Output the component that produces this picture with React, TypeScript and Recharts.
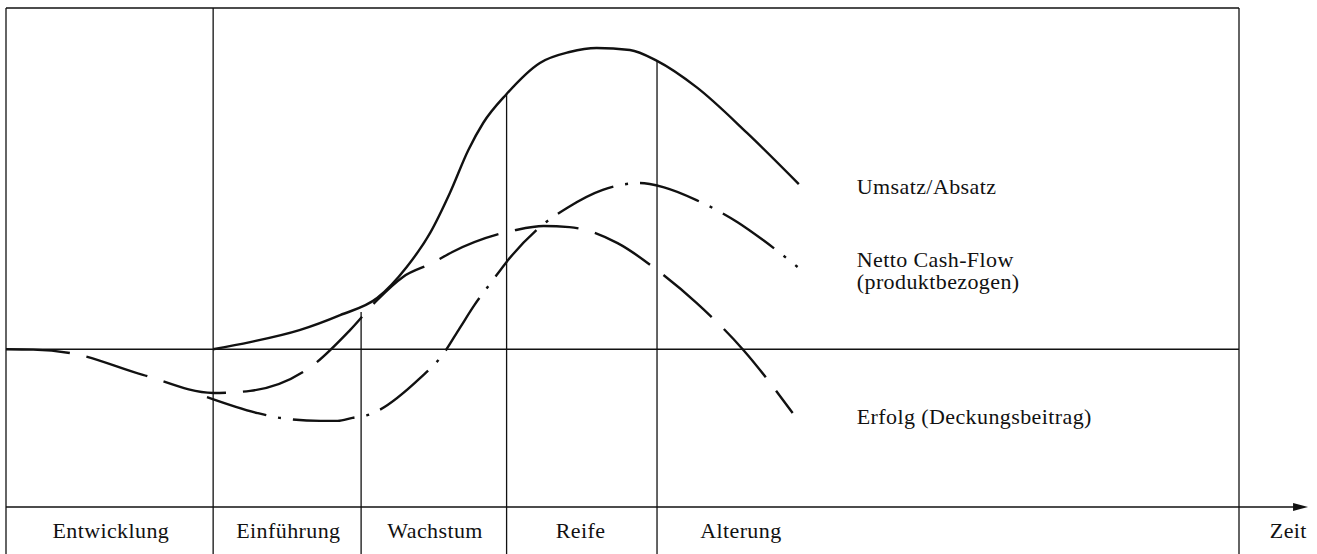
import React from "react";
import { ComposedChart, Line, XAxis, YAxis, ReferenceLine, ReferenceDot } from "recharts";

// time runs 0..100 across the frame, value 0 is the break-even line
const umsatzT = [16.8, 19.8, 23.8, 27.1, 30.1, 32.5, 34.4, 36.0, 37.5, 38.7, 40.6, 43.3, 45.7, 47.9, 50.6, 52.8, 56.0, 60.1, 64.3];
const umsatzV = [0, 2.1, 5.6, 10.0, 15.0, 24.1, 34.1, 45.8, 58.4, 66.3, 74.8, 83.9, 87.1, 88.3, 87.7, 84.5, 76.8, 63.4, 48.4];

const cashT = [16.3, 20.4, 22.2, 25.5, 26.9, 28.1, 29.3, 33.6, 35.4, 36.8, 38.0, 39.5, 40.6, 43.3, 45.5, 48.4, 51.4, 53.3, 56.0, 59.3, 61.4, 64.2];
const cashV = [-14.0, -18.7, -20.1, -21.0, -21.0, -20.1, -19.3, -8.4, -1.7, 6.2, 13.0, 20.3, 25.6, 35.8, 41.4, 46.7, 48.7, 47.5, 43.7, 37.3, 32.0, 24.1];

const erfolgT = [0, 2.2, 5.2, 11.1, 16.8, 19.8, 24.7, 27.9, 30.1, 32.2, 34.6, 36.2, 41.3, 43.6, 45.7, 49.6, 52.8, 56.0, 59.8, 63.8];
const erfolgV = [0, -0.1, -1.1, -7.5, -12.8, -12.2, -5.2, 5.6, 14.4, 21.2, 25.3, 28.5, 34.9, 36.1, 35.8, 31.1, 23.2, 13.6, -0.2, -18.7];

// phase boundaries and how high each divider reaches
const phaseBounds = [16.8, 28.8, 40.6, 52.8];
const phaseTops = [100, 10.9, 74.8, 84.5];

const phaseNames = ["Entwicklung", "Einführung", "Wachstum", "Reife", "Alterung"];
const phaseNameX = [8.5, 22.9, 34.8, 46.6, 59.6];
const phaseNameY = -55.3;

const curveNames = ["Umsatz/Absatz", "Netto Cash-Flow", "(produktbezogen)", "Erfolg (Deckungsbeitrag)"];
const curveNameX = 69.0;
const curveNameY = [45.5, 24.1, 17.6, -21.9];

const timeLabel = "Zeit";
const timeLabelX = 102.5;
const axisY = -46.2;
const axisEnd = 105.6;

const toRows = (t: number[], v: number[]) => t.map((x, i) => ({ t: x, v: v[i] }));

const INK = "#111";
const FONT = '"Liberation Serif", "Times New Roman", serif';

const textShape = (text: string, anchor: "start" | "middle") => (p: any) => (
  <text x={p.cx} y={p.cy} textAnchor={anchor} fontFamily={FONT} fontSize={22} letterSpacing={0.4} fill={INK}>
    {text}
  </text>
);

const arrowShape = (p: any) => (
  <polygon points={`${p.cx},${p.cy} ${p.cx - 15},${p.cy - 4} ${p.cx - 15},${p.cy + 4}`} fill={INK} />
);

const LifeCycleChart = () => {
  return (
    <div style={{ position: "absolute", left: 0, top: 0, background: "#fff" }}>
      <ComposedChart width={1317} height={554} margin={{ top: 8, right: 78, bottom: 0, left: 6 }}>
        <XAxis type="number" dataKey="t" domain={[0, 100]} hide allowDataOverflow />
        <YAxis type="number" dataKey="v" domain={[-60, 100]} hide allowDataOverflow />

        {/* frame */}
        <ReferenceLine x={0} stroke={INK} strokeWidth={1.3} />
        <ReferenceLine x={100} stroke={INK} strokeWidth={1.3} />
        <ReferenceLine y={100} stroke={INK} strokeWidth={1.3} />
        <ReferenceLine y={0} stroke={INK} strokeWidth={1.3} />
        <ReferenceLine
          segment={[{ x: 0, y: axisY }, { x: axisEnd - 1, y: axisY }]}
          ifOverflow="visible"
          stroke={INK}
          strokeWidth={1.5}
        />
        <ReferenceDot x={axisEnd} y={axisY} ifOverflow="visible" shape={arrowShape} />

        {phaseBounds.map((x, i) => (
          <ReferenceLine
            key={x}
            segment={[{ x, y: phaseTops[i] }, { x, y: -60 }]}
            stroke={INK}
            strokeWidth={1.3}
          />
        ))}

        <Line
          data={toRows(erfolgT, erfolgV)}
          dataKey="v"
          type="monotone"
          stroke={INK}
          strokeWidth={2.4}
          strokeDasharray="64 17"
          dot={false}
          activeDot={false}
          isAnimationActive={false}
        />
        <Line
          data={toRows(cashT, cashV)}
          dataKey="v"
          type="monotone"
          stroke={INK}
          strokeWidth={2.4}
          strokeDasharray="62 12 3 12"
          dot={false}
          activeDot={false}
          isAnimationActive={false}
        />
        <Line
          data={toRows(umsatzT, umsatzV)}
          dataKey="v"
          type="monotone"
          stroke={INK}
          strokeWidth={2.4}
          dot={false}
          activeDot={false}
          isAnimationActive={false}
        />

        {phaseNames.map((name, i) => (
          <ReferenceDot key={name} x={phaseNameX[i]} y={phaseNameY} shape={textShape(name, "middle")} />
        ))}
        {curveNames.map((name, i) => (
          <ReferenceDot key={name} x={curveNameX} y={curveNameY[i]} shape={textShape(name, "start")} />
        ))}
        <ReferenceDot x={timeLabelX} y={phaseNameY} ifOverflow="visible" shape={textShape(timeLabel, "start")} />
      </ComposedChart>
    </div>
  );
};

export default function App() {
  return <LifeCycleChart />;
}
